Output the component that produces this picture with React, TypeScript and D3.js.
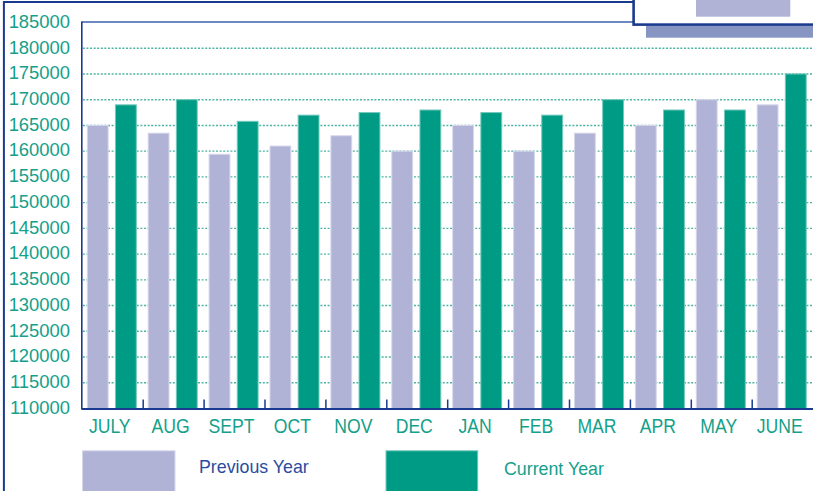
import React from "react";
import * as d3 from "d3";

const months = ["JULY", "AUG", "SEPT", "OCT", "NOV", "DEC", "JAN", "FEB", "MAR", "APR", "MAY", "JUNE"];
const previousYear = [165000, 163500, 159400, 161000, 163000, 160000, 165000, 160000, 163500, 165000, 170000, 169000];
const currentYear = [169000, 170000, 165800, 167000, 167500, 168000, 167500, 167000, 170000, 168000, 168000, 175000];
const yTicks = [110000, 115000, 120000, 125000, 130000, 135000, 140000, 145000, 150000, 155000, 160000, 165000, 170000, 175000, 180000, 185000];
const seriesNames = ["Previous Year", "Current Year"];

const W = 813;
const H = 491;
const PREV = "#b1b3d6";
const PREV_EDGE = "#d6d7eb";
const CUR = "#009b85";
const CUR_EDGE = "#72c9ba";
const TEAL_TEXT = "#14a08a";
const NAVY = "#1a3a8f";
const FONT = "'Liberation Sans', Arial, sans-serif";

export default function App() {
  const x = d3.scaleBand<string>().domain(months).range([81.8, 812.6]).padding(0);
  const bw = x.bandwidth();
  const xs = d3
    .scaleBand<string>()
    .domain(["prev", "cur"])
    .range([bw * 0.09, bw * 0.895])
    .paddingInner(0.26)
    .paddingOuter(0);
  const y = d3.scaleLinear().domain([110000, 185000]).range([408.5, 22.5]);
  const x0 = 81.8;
  const xEnd = W;

  return (
    <div style={{ position: "fixed", left: 0, top: 0 }}>
      <svg width={W} height={H} style={{ display: "block", background: "#fff" }}>
        {/* outer frame */}
        <rect x={3.9} y={2} width={900} height={700} fill="none" stroke={NAVY} strokeWidth={2} />

        {/* gridlines */}
        {yTicks
          .filter((t) => t > 110000 && t < 185000)
          .map((t) => (
            <line
              key={"g" + t}
              x1={x0 + 1}
              x2={xEnd}
              y1={y(t)}
              y2={y(t)}
              stroke="#2ea895"
              strokeWidth={1.4}
              strokeDasharray="2,1.6"
              opacity={0.85}
            />
          ))}

        {/* plot frame */}
        <line x1={x0} x2={xEnd} y1={22} y2={22} stroke="#3d5fae" strokeWidth={1.6} />
        <line x1={x0} x2={x0} y1={21.5} y2={409.5} stroke={NAVY} strokeWidth={1.6} />

        {/* bars */}
        {months.map((m, i) => {
          const bx = x(m) as number;
          const pv = previousYear[i];
          const cv = currentYear[i];
          return (
            <g key={m}>
              <rect
                x={bx + (xs("prev") as number)}
                y={y(pv)}
                width={xs.bandwidth()}
                height={y(110000) - y(pv)}
                fill={PREV}
                stroke={PREV_EDGE}
                strokeWidth={1}
              />
              <rect
                x={bx + (xs("cur") as number)}
                y={y(cv)}
                width={xs.bandwidth()}
                height={y(110000) - y(cv)}
                fill={CUR}
                stroke={CUR_EDGE}
                strokeWidth={1}
              />
            </g>
          );
        })}

        {/* x axis */}
        <line x1={x0} x2={xEnd} y1={409} y2={409} stroke={NAVY} strokeWidth={2} />
        {months.slice(1).map((m) => (
          <line
            key={"t" + m}
            x1={(x(m) as number) + 0.5}
            x2={(x(m) as number) + 0.5}
            y1={399.5}
            y2={409}
            stroke={NAVY}
            strokeWidth={1.5}
          />
        ))}

        {/* x labels */}
        {months.map((m) => (
          <text
            key={"l" + m}
            transform={`translate(${(x(m) as number) + bw / 2 - 2.5},433.3) scale(1,1.1)`}
            textAnchor="middle"
            fontFamily={FONT}
            fontSize={17.6}
            fill={TEAL_TEXT}
          >
            {m}
          </text>
        ))}

        {/* y labels */}
        {yTicks.map((t) => (
          <text
            key={"y" + t}
            x={70}
            y={y(t) + 5.3}
            textAnchor="end"
            fontFamily={FONT}
            fontSize={18.4}
            fill={TEAL_TEXT}
          >
            {t}
          </text>
        ))}

        {/* top-right box */}
        <rect x={646} y={25.7} width={170} height={12} fill="#8695c2" />
        <rect x={633.6} y={-10} width={200} height={34.6} fill="#fff" stroke={NAVY} strokeWidth={2.6} />
        <rect x={696} y={-5} width={94.3} height={21.7} fill={PREV} />

        {/* legend */}
        <rect x={82.5} y={450.8} width={92.5} height={45} fill={PREV} stroke={PREV_EDGE} strokeWidth={1} />
        <text x={199} y={473.3} fontFamily={FONT} fontSize={17.8} fill="#2b4c9f">
          {seriesNames[0]}
        </text>
        <rect x={386} y={450.8} width={91.7} height={45} fill={CUR} stroke={CUR_EDGE} strokeWidth={1} />
        <text x={504} y={474.5} fontFamily={FONT} fontSize={17.8} fill={TEAL_TEXT}>
          {seriesNames[1]}
        </text>
      </svg>
    </div>
  );
}
